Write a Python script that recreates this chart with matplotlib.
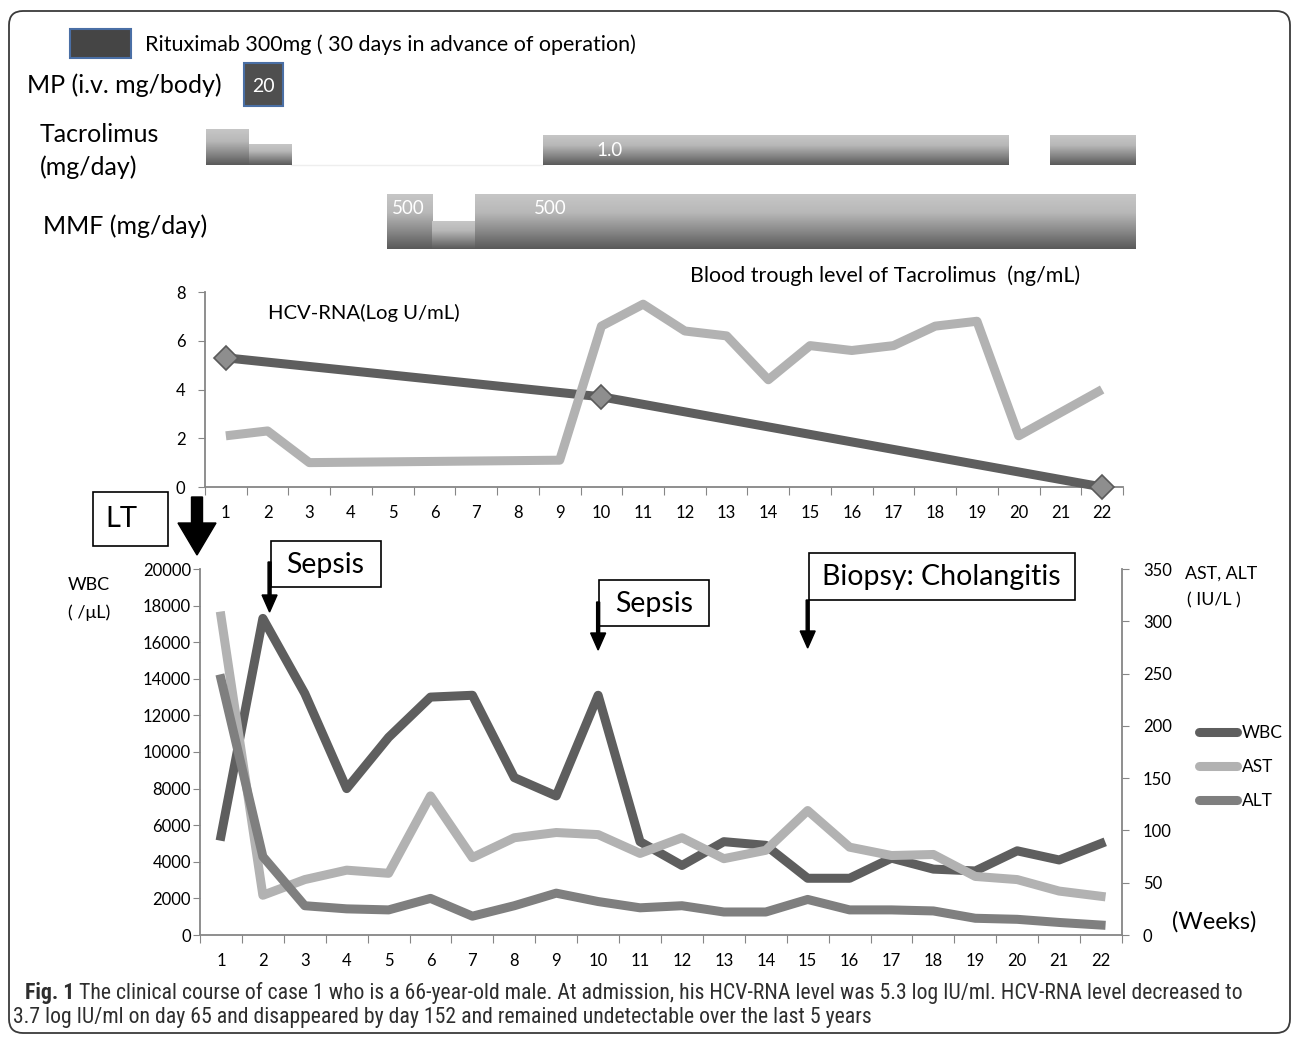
import numpy as np
import matplotlib
matplotlib.use('Agg')
import matplotlib.pyplot as plt
from matplotlib import font_manager
from matplotlib.colors import LinearSegmentedColormap
from matplotlib.patches import Rectangle, FancyBboxPatch, FancyArrow
from matplotlib.lines import Line2D

W, H = 1292, 1037
plt.rcParams['font.family'] = ['Lato', 'DejaVu Sans']

# --- data ---
weeks = list(range(1, 23))
week_labels = [str(w) for w in weeks]

# HCV-RNA (log IU/mL), measured at three time points
hcv_weeks = [1, 10, 22]
hcv_vals = [5.3, 3.7, 0.0]

# tacrolimus trough level (ng/mL)
trough_weeks = [1, 2, 3, 9, 10, 11, 12, 13, 14, 15, 16, 17, 18, 19, 20, 21, 22]
trough_vals = [2.1, 2.3, 1.0, 1.1, 6.6, 7.5, 6.4, 6.2, 4.4, 5.8, 5.6, 5.8, 6.6, 6.8, 2.1, 3.05, 4.0]

wbc = [5400, 17300, 13200, 8000, 10800, 13000, 13100, 8600, 7600, 13100, 5100,
       3800, 5100, 4900, 3100, 3100, 4200, 3600, 3500, 4600, 4100, 5000]
ast = [305, 38, 53, 62, 59, 133, 74, 93, 98, 96, 78, 93, 73, 81, 119, 84, 76, 77,
       56, 53, 42, 37]
alt = [245, 75, 28, 25, 24, 35, 18, 28, 40, 32, 26, 28, 22, 22, 34, 24, 24, 23,
       16, 15, 12, 9.5]

# treatment schedule (in weeks on the same axis)
tac_start = [0.5, 1.53, 8.58, 20.75]
tac_end = [1.53, 2.54, 19.74, 22.79]
tac_dose = [1.2, 0.7, 1.0, 1.0]
mmf_start = [4.84, 5.92, 6.95]
mmf_end = [5.92, 6.95, 22.79]
mmf_dose = [500, 250, 500]
mp_start, mp_end, mp_dose = 1.41, 2.34, 20

events = [2.16, 10, 15]
event_labels = ['Sepsis', 'Sepsis', 'Biopsy: Cholangitis']

C_DARK = '#5e5e5e'
C_LIGHT = '#b2b2b2'
C_MID = '#7f7f7f'
C_AXIS = '#868686'


def fx(px):
    return px / W


def fy(py):
    return 1 - py / H


fig = plt.figure(figsize=(W / 100, H / 100), dpi=100)
fig.patch.set_facecolor('white')

# ---------- treatment bars (x in weeks, y in pixel rows) ----------
ax_t = fig.add_axes([0, 0, 1, 1])
ax_t.axis('off')
x_per_px = 1 / 41.67
xlim_t = (1 + (0 - 227) * x_per_px, 1 + (W - 227) * x_per_px)
grad = np.linspace(0, 1, 64).reshape(-1, 1)
bar_cmap = LinearSegmentedColormap.from_list('bar', ['#c6c6c6', '#b8b8b8', '#8a8a8a', '#5a5a5a'])

TAC_BASE, TAC_SCALE = 165, 30
for s, e, d in zip(tac_start, tac_end, tac_dose):
    ax_t.imshow(grad, extent=[s, e, TAC_BASE, TAC_BASE - d * TAC_SCALE], cmap=bar_cmap,
                aspect='auto', interpolation='bilinear', zorder=2)
ax_t.plot([tac_end[1], tac_start[2]], [TAC_BASE, TAC_BASE], color='#eeeeee', lw=1, zorder=1)
ax_t.text(tac_start[2] + 1.6, TAC_BASE - 15, f'{tac_dose[2]:.1f}',
          color='white', fontsize=13.5, ha='center', va='center', zorder=3)

MMF_BASE, MMF_SCALE = 249, 55 / 500
for s, e, d in zip(mmf_start, mmf_end, mmf_dose):
    ax_t.imshow(grad, extent=[s, e, MMF_BASE, MMF_BASE - d * MMF_SCALE], cmap=bar_cmap,
                aspect='auto', interpolation='bilinear', zorder=2)
for i in (0, 2):
    ax_t.text(mmf_start[i] + (0.5 if i == 0 else 1.8), MMF_BASE - 41, str(mmf_dose[i]),
              color='white', fontsize=13.5, ha='center', va='center', zorder=3)

ax_t.add_patch(Rectangle((mp_start, 63), mp_end - mp_start, 43, facecolor='#4f4f4f',
                         edgecolor='#4a6fa5', lw=1.5, zorder=2))
ax_t.text((mp_start + mp_end) / 2, 87, str(mp_dose), color='white', fontsize=14,
          ha='center', va='center', zorder=3)
ax_t.set_xlim(*xlim_t)
ax_t.set_ylim(H, 0)

# ---------- upper chart: HCV-RNA and tacrolimus trough ----------
ax1 = fig.add_axes([fx(205), fy(487), (1123 - 205) / W, (487 - 292) / H])
ax1.plot(hcv_weeks, hcv_vals, color=C_DARK, lw=6.5, marker='D', ms=12,
         mfc='#8e8e8e', mec='#5a5a5a', mew=1.2, solid_joinstyle='round', zorder=2,
         clip_on=False)
ax1.plot(trough_weeks, trough_vals, color=C_LIGHT, lw=6.5, solid_joinstyle='round',
         solid_capstyle='butt', zorder=3)
ax1.set_xlim(0.5, 22.5)
ax1.set_ylim(0, 8)
ax1.set_yticks(range(0, 9, 2))
ax1.set_xticks(np.arange(0.5, 23, 1))
ax1.set_xticklabels([])
ax1.set_xticks(weeks, minor=True)
ax1.set_xticklabels(week_labels, minor=True)
ax1.tick_params(axis='x', which='major', length=6, color=C_AXIS, direction='out')
ax1.tick_params(axis='x', which='minor', length=0, pad=13, labelsize=12)
ax1.tick_params(axis='y', length=5, color=C_AXIS, pad=9, labelsize=12)
for sp in ('top', 'right'):
    ax1.spines[sp].set_visible(False)
for sp in ('left', 'bottom'):
    ax1.spines[sp].set_color(C_AXIS)
    ax1.spines[sp].set_linewidth(1.3)
    ax1.spines[sp].set_zorder(1)
ax1.patch.set_alpha(0)

# ---------- lower chart: WBC, AST, ALT ----------
ax2 = fig.add_axes([fx(200), fy(935), (1122 - 200) / W, (935 - 569) / H])
ax2.plot(weeks, wbc, color=C_DARK, lw=6.5, solid_joinstyle='round', zorder=2)
ax2.set_xlim(0.5, 22.5)
ax2.set_ylim(0, 20000)
ax2.set_yticks(range(0, 20001, 2000))
ax2.set_xticks(np.arange(0.5, 23, 1))
ax2.set_xticklabels([])
ax2.set_xticks(weeks, minor=True)
ax2.set_xticklabels(week_labels, minor=True)
ax2.tick_params(axis='x', which='major', length=6, color=C_AXIS, direction='out')
ax2.tick_params(axis='x', which='minor', length=0, pad=13, labelsize=12)
ax2.tick_params(axis='y', length=5, color=C_AXIS, pad=1.5, labelsize=12)

ax3 = ax2.twinx()
ax3.plot(weeks, ast, color=C_LIGHT, lw=6.5, solid_joinstyle='round', zorder=3)
ax3.plot(weeks, alt, color=C_MID, lw=6.5, solid_joinstyle='round', zorder=4)
ax3.set_ylim(0, 350)
ax3.set_yticks(range(0, 351, 50))
ax3.tick_params(axis='y', length=5, color=C_AXIS, pad=10, labelsize=12)
for a in (ax2, ax3):
    a.spines['top'].set_visible(False)
    a.patch.set_alpha(0)
ax2.spines['right'].set_visible(False)
ax3.spines['left'].set_visible(False)
ax3.spines['bottom'].set_visible(False)
for a, sp in ((ax2, 'left'), (ax2, 'bottom'), (ax3, 'right')):
    a.spines[sp].set_color(C_AXIS)
    a.spines[sp].set_linewidth(1.3)

handles = [Line2D([], [], color=c, lw=6.5, solid_capstyle='round') for c in (C_DARK, C_LIGHT, C_MID)]
fig.legend(handles, ['WBC', 'AST', 'ALT'], loc='upper left',
           bbox_to_anchor=(fx(1190), fy(716)), frameon=False, fontsize=12.5,
           handlelength=2.2, handletextpad=0.3, labelspacing=1.06, borderpad=0)

# ---------- overlay: labels, boxes, arrows ----------
ov = fig.add_axes([0, 0, 1, 1])
ov.axis('off')
ov.set_xlim(0, W)
ov.set_ylim(H, 0)

ov.add_patch(FancyBboxPatch((9, 11), W - 11, 1022, boxstyle='round,pad=0,rounding_size=14',
                            facecolor='none', edgecolor='#3a3a3a', lw=1.3))

ov.add_patch(Rectangle((70, 29), 61, 29, facecolor='#454545', edgecolor='#4a6fa5', lw=1.5))
ov.text(145, 45, 'Rituximab 300mg ( 30 days in advance of operation)', fontsize=15.5,
        va='center', ha='left')
ov.text(27, 85, 'MP (i.v. mg/body)', fontsize=18, va='center', ha='left')
ov.text(40, 134, 'Tacrolimus', fontsize=18, va='center', ha='left')
ov.text(40, 167, '(mg/day)', fontsize=18, va='center', ha='left')
ov.text(43, 226, 'MMF (mg/day)', fontsize=18, va='center', ha='left')
ov.text(690, 276, 'Blood trough level of Tacrolimus  (ng/mL)', fontsize=15.4,
        va='center', ha='left')
ov.text(268, 313, 'HCV-RNA(Log U/mL)', fontsize=14.6, va='center', ha='left')

ov.text(68, 585, 'WBC', fontsize=13, va='center', ha='left')
ov.text(68, 613, '( /\u03bcL)', fontsize=13, va='center', ha='left')
ov.text(1185, 574, 'AST, ALT', fontsize=12.8, va='center', ha='left')
ov.text(1187, 600, '( IU/L )', fontsize=12.8, va='center', ha='left')
ov.text(1172, 922, '(Weeks)', fontsize=17, va='center', ha='left')

# LT box and arrow
ov.add_patch(Rectangle((93, 492), 75, 54, facecolor='white', edgecolor='black', lw=1.2))
ov.text(121, 519, 'LT', fontsize=21, va='center', ha='center')
ov.add_patch(FancyArrow(197, 497, 0, 58, width=11, head_width=38, head_length=32,
                        length_includes_head=True, color='black'))

# event boxes and arrows (x from event weeks on the lower axis)
box_rows = [(541, 587), (580, 626), (553, 600)]
box_w = [110, 110, 266]
arrow_rows = [(562, 612), (602, 650), (600, 648)]
for wk, lab, (top, bot), bw, (a0, a1) in zip(events, event_labels, box_rows, box_w, arrow_rows):
    xp = ax2.transData.transform((wk, 0))[0]
    ov.add_patch(Rectangle((xp + 1, top), bw, bot - top, facecolor='white',
                           edgecolor='black', lw=1.2))
    ov.text(xp + 1 + bw / 2, (top + bot) / 2 + 1, lab, fontsize=20.5, va='center', ha='center')
    ov.add_patch(FancyArrow(xp, a0, 0, a1 - a0, width=3, head_width=15, head_length=17,
                            length_includes_head=True, color='black'))

# caption: pick a narrow face if one is installed, then fit to the reference width
names = {f.name for f in font_manager.fontManager.ttflist}
cap_fam = 'Lato'
for cand in ('Roboto Condensed', 'Liberation Sans Narrow', 'Open Sans Condensed',
             'DejaVu Sans Condensed'):
    if cand in names:
        cap_fam = cand
        break
cap_kw = dict(va='center', ha='left', family=[cap_fam, 'DejaVu Sans'], color='#2e2e2e')
cap_fs = 13.5
cap1 = ov.text(25, 993, 'Fig. 1', fontsize=cap_fs, fontweight='bold', **cap_kw)
cap2 = ov.text(0, 993, 'The clinical course of case 1 who is a 66-year-old male. At admission, '
               'his HCV-RNA level was 5.3 log IU/ml. HCV-RNA level decreased to',
               fontsize=cap_fs, **cap_kw)
cap3 = ov.text(13, 1018, '3.7 log IU/ml on day 65 and disappeared by day 152 and remained '
               'undetectable over the last 5 years', fontsize=cap_fs, **cap_kw)
fig.canvas.draw()
w1 = cap1.get_window_extent().width
w2 = cap2.get_window_extent().width
scale = (1245 - 25) / (w1 + 5 + w2)
for t in (cap1, cap2, cap3):
    t.set_fontsize(cap_fs * scale)
fig.canvas.draw()
cap2.set_x(cap1.get_window_extent().x1 + 5)

fig.savefig('out.png', dpi=100)
